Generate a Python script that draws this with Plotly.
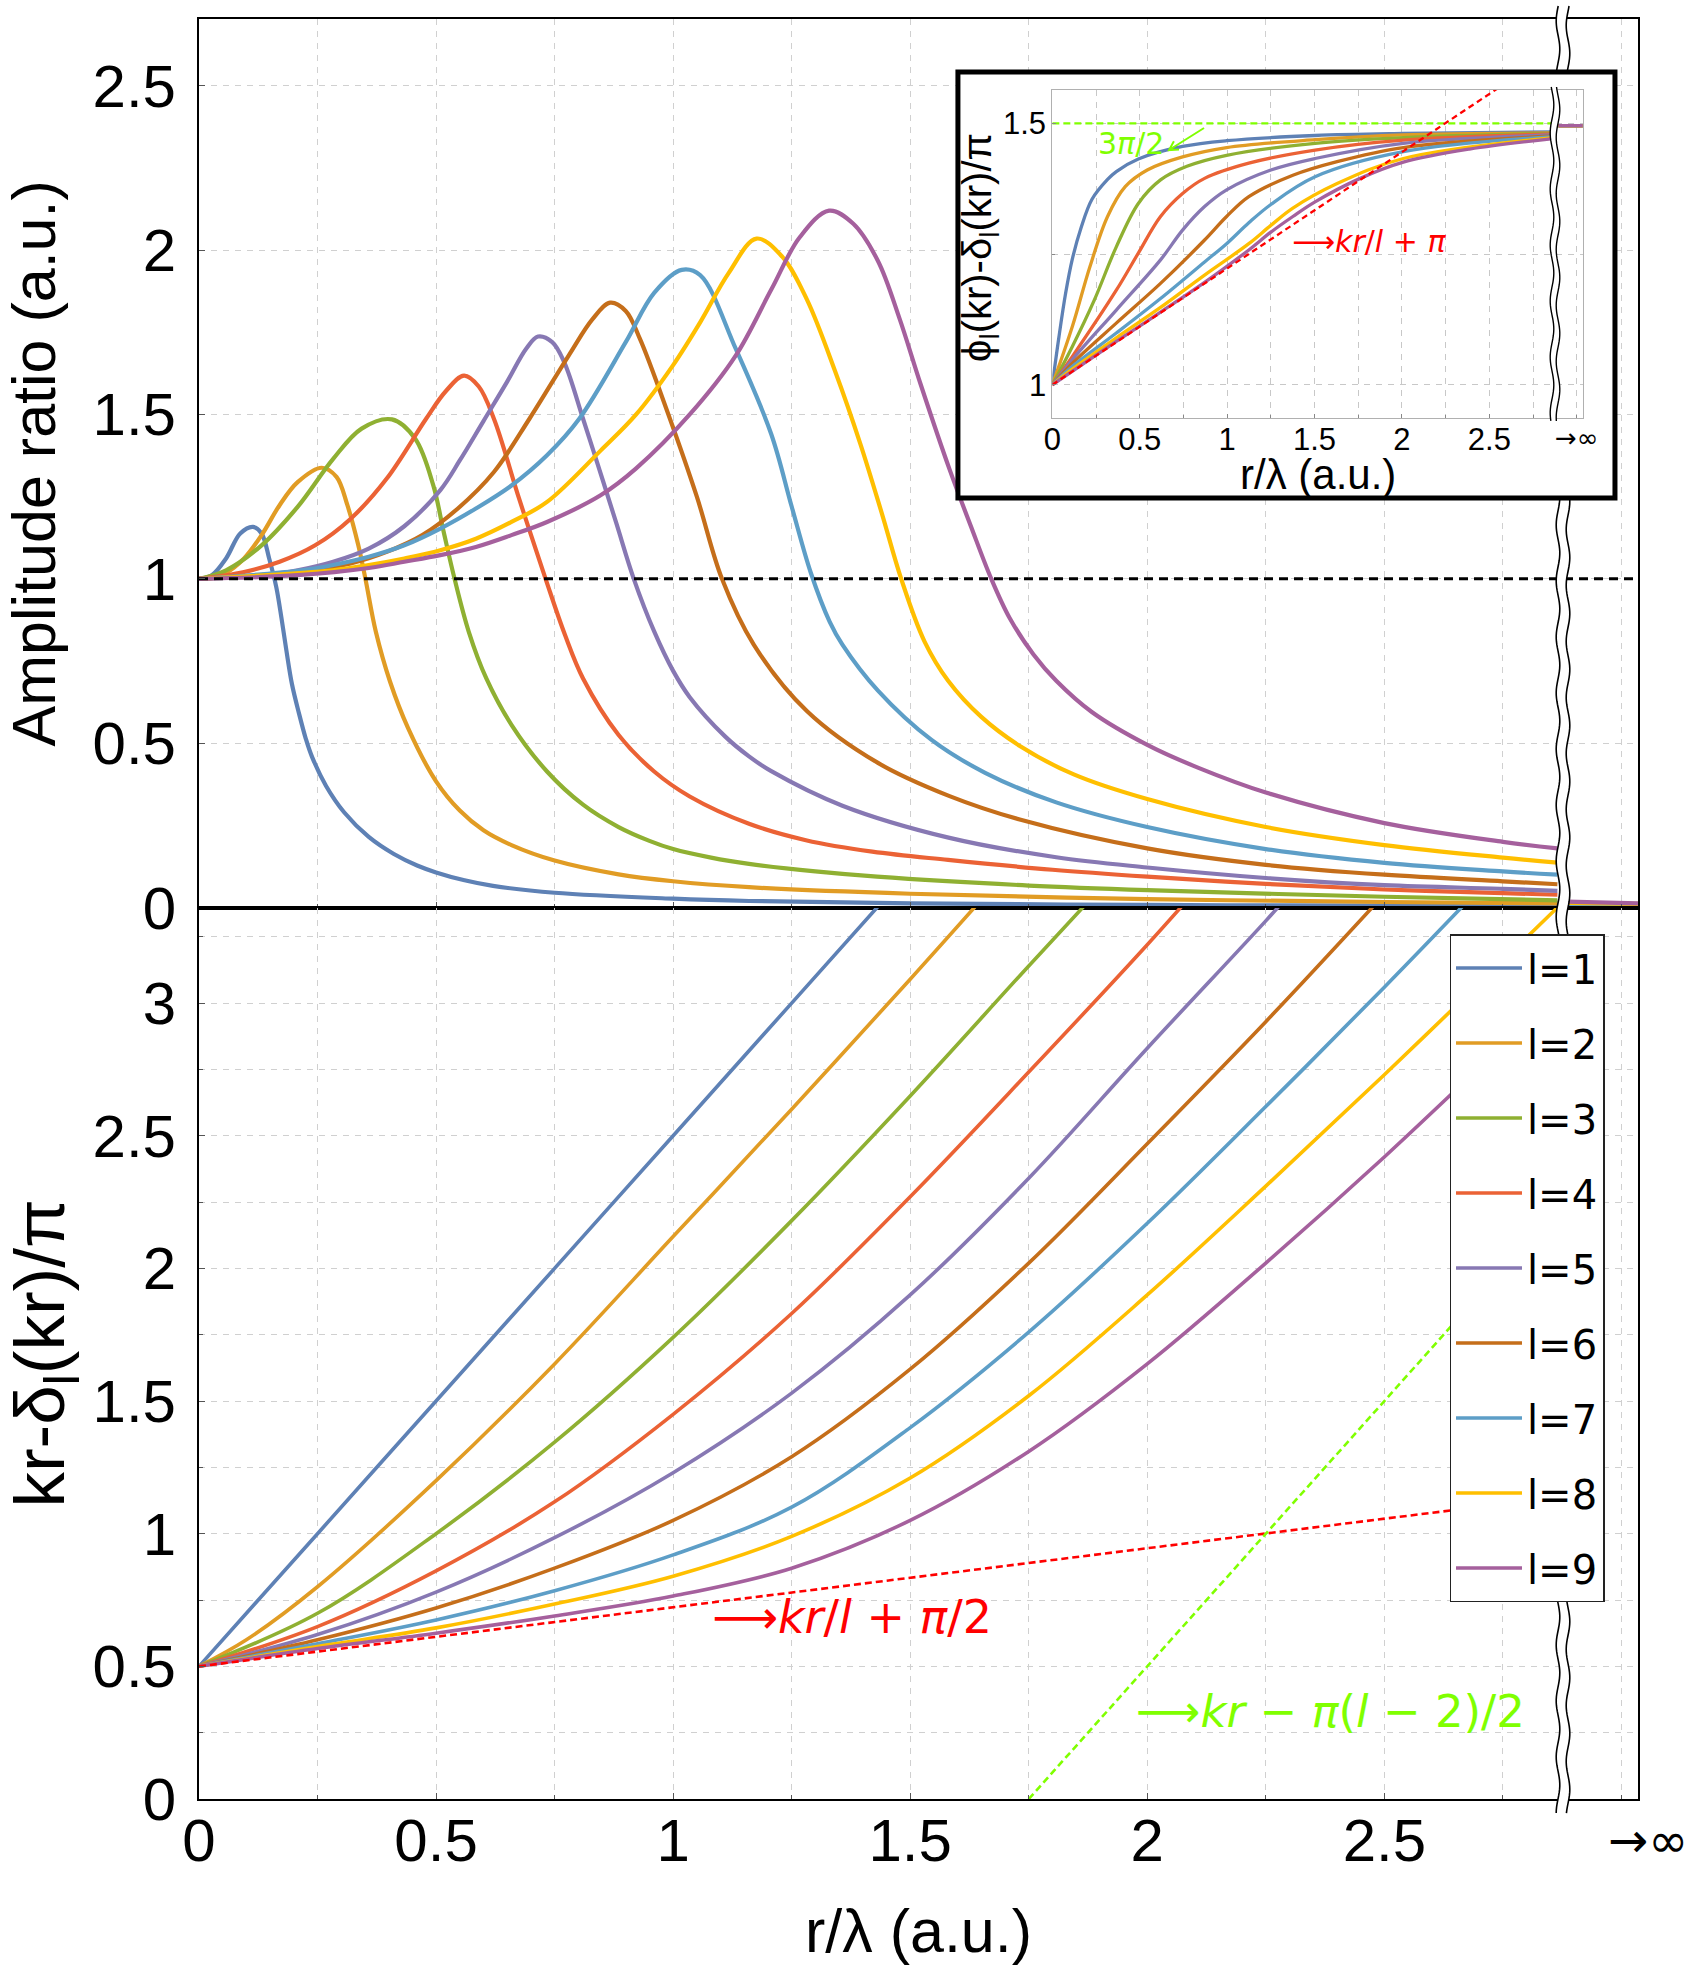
import math
import plotly.graph_objects as go

# ---------------- data ----------------
LABELS = ["l=1", "l=2", "l=3", "l=4", "l=5", "l=6", "l=7", "l=8", "l=9"]
COLORS = ["#5E81B5", "#E19C24", "#8FB032", "#EB6235", "#8778B3",
          "#C56E1A", "#5D9EC7", "#FFBF00", "#A5609D"]

# top panel: amplitude ratio
amp_x_l1 = [0, 0.027, 0.057, 0.087, 0.114, 0.132, 0.148, 0.163, 0.174, 0.184, 0.196, 0.211, 0.225, 0.238, 0.268, 0.306, 0.358, 0.411, 0.46, 0.5, 0.56, 0.62, 0.75, 1.0, 1.16, 1.5, 2.0, 2.5, 2.865]
amp_y_l1 = [1.0, 1.011, 1.062, 1.138, 1.158, 1.138, 1.062, 0.975, 0.88, 0.785, 0.68, 0.59, 0.515, 0.46, 0.37, 0.29, 0.215, 0.163, 0.128, 0.107, 0.083, 0.066, 0.045, 0.027, 0.02, 0.013, 0.008, 0.006, 0.004]
amp_x_l2 = [0, 0.057, 0.095, 0.132, 0.17, 0.208, 0.259, 0.29, 0.313, 0.336, 0.351, 0.373, 0.403, 0.441, 0.5, 0.55, 0.6, 0.659, 0.75, 0.885, 1.0, 1.16, 1.5, 2.0, 2.5, 2.865]
amp_y_l2 = [1.0, 1.019, 1.062, 1.133, 1.224, 1.294, 1.338, 1.31, 1.224, 1.102, 1.0, 0.839, 0.687, 0.546, 0.384, 0.295, 0.235, 0.19, 0.143, 0.101, 0.08, 0.062, 0.042, 0.026, 0.017, 0.013]
amp_x_l3 = [0, 0.057, 0.132, 0.208, 0.283, 0.343, 0.407, 0.456, 0.494, 0.516, 0.539, 0.569, 0.606, 0.659, 0.734, 0.81, 0.885, 0.95, 1.0, 1.08, 1.16, 1.3, 1.43, 1.75, 2.0, 2.5, 2.865]
amp_y_l3 = [1.0, 1.026, 1.102, 1.219, 1.365, 1.457, 1.485, 1.426, 1.285, 1.143, 1.0, 0.839, 0.697, 0.556, 0.414, 0.313, 0.245, 0.203, 0.178, 0.152, 0.133, 0.11, 0.094, 0.067, 0.053, 0.033, 0.022]
amp_x_l4 = [0, 0.095, 0.17, 0.245, 0.32, 0.396, 0.479, 0.52, 0.559, 0.59, 0.622, 0.676, 0.731, 0.772, 0.81, 0.885, 0.96, 1.035, 1.16, 1.28, 1.42, 1.58, 1.8, 2.0, 2.25, 2.5, 2.75, 2.865]
amp_y_l4 = [1.0, 1.021, 1.052, 1.102, 1.183, 1.305, 1.487, 1.57, 1.618, 1.585, 1.487, 1.24, 1.0, 0.829, 0.697, 0.525, 0.414, 0.338, 0.255, 0.205, 0.17, 0.145, 0.115, 0.094, 0.072, 0.055, 0.044, 0.039]
amp_x_l5 = [0, 0.132, 0.208, 0.283, 0.358, 0.433, 0.509, 0.55, 0.6, 0.65, 0.69, 0.715, 0.745, 0.77, 0.81, 0.845, 0.88, 0.917, 0.96, 1.0, 1.035, 1.11, 1.16, 1.207, 1.357, 1.583, 1.808, 2.0, 2.25, 2.5, 2.75, 2.865]
amp_y_l5 = [1.0, 1.011, 1.026, 1.052, 1.092, 1.16, 1.27, 1.36, 1.48, 1.6, 1.7, 1.737, 1.72, 1.66, 1.487, 1.33, 1.17, 1.0, 0.84, 0.72, 0.64, 0.52, 0.46, 0.415, 0.31, 0.212, 0.153, 0.122, 0.09, 0.068, 0.057, 0.051]
amp_x_l6 = [0, 0.208, 0.32, 0.396, 0.471, 0.546, 0.622, 0.697, 0.78, 0.83, 0.867, 0.9, 0.93, 0.99, 1.05, 1.103, 1.17, 1.282, 1.432, 1.583, 1.733, 2.0, 2.25, 2.5, 2.75, 2.865]
amp_y_l6 = [1.0, 1.021, 1.047, 1.082, 1.133, 1.214, 1.325, 1.487, 1.68, 1.79, 1.84, 1.815, 1.73, 1.50, 1.25, 1.0, 0.80, 0.598, 0.44, 0.339, 0.267, 0.18, 0.13, 0.1, 0.08, 0.071]
amp_x_l7 = [0, 0.208, 0.283, 0.358, 0.433, 0.509, 0.584, 0.659, 0.734, 0.802, 0.9, 0.96, 1.018, 1.057, 1.132, 1.207, 1.25, 1.29, 1.33, 1.357, 1.432, 1.545, 1.658, 1.808, 2.0, 2.25, 2.5, 2.75, 2.865]
amp_y_l7 = [1.0, 1.024, 1.042, 1.067, 1.102, 1.153, 1.214, 1.284, 1.376, 1.487, 1.72, 1.87, 1.94, 1.924, 1.70, 1.44, 1.22, 1.02, 0.87, 0.80, 0.66, 0.51, 0.41, 0.32, 0.245, 0.178, 0.136, 0.11, 0.1]
amp_x_l8 = [0, 0.283, 0.358, 0.433, 0.509, 0.584, 0.659, 0.734, 0.847, 0.922, 1.0, 1.057, 1.117, 1.176, 1.23, 1.282, 1.342, 1.395, 1.44, 1.481, 1.53, 1.58, 1.65, 1.733, 1.845, 2.0, 2.25, 2.5, 2.75, 2.865]
amp_y_l8 = [1.0, 1.026, 1.042, 1.062, 1.087, 1.122, 1.173, 1.234, 1.39, 1.50, 1.65, 1.78, 1.93, 2.035, 1.98, 1.85, 1.63, 1.41, 1.20, 1.0, 0.81, 0.69, 0.58, 0.49, 0.405, 0.33, 0.245, 0.19, 0.152, 0.137]
amp_x_l9 = [0, 0.208, 0.358, 0.433, 0.509, 0.584, 0.659, 0.734, 0.847, 0.922, 1.035, 1.132, 1.207, 1.267, 1.329, 1.38, 1.432, 1.477, 1.522, 1.583, 1.628, 1.671, 1.71, 1.76, 1.808, 1.883, 2.0, 2.108, 2.25, 2.5, 2.75, 2.865]
amp_y_l9 = [1.0, 1.011, 1.033, 1.052, 1.072, 1.097, 1.133, 1.173, 1.254, 1.336, 1.50, 1.679, 1.88, 2.039, 2.12, 2.08, 1.967, 1.794, 1.592, 1.333, 1.16, 1.0, 0.88, 0.77, 0.69, 0.595, 0.495, 0.425, 0.35, 0.257, 0.2, 0.18]
# values beyond the axis break (r -> infinity)
amp_tail_x = [2.885, 3.035]
amp_tail_y = [[0.002, 0.001], [0.003, 0.002], [0.004, 0.003], [0.005, 0.004], [0.007, 0.005],
              [0.009, 0.007], [0.011, 0.009], [0.014, 0.011], [0.018, 0.013]]
unity_x = [0, 3.035]
unity_y = [1.0, 1.0]

# bottom panel: kr - delta_l(kr) / pi
ph_x_l1 = [0, 0.25, 0.5, 0.75, 1.0, 1.25, 1.45]
ph_y_l1 = [0.5, 1.0, 1.5, 2.0, 2.5, 3.0, 3.4]
ph_x_l2 = [0, 0.1, 0.25, 0.5, 0.75, 1.0, 1.25, 1.5, 1.7]
ph_y_l2 = [0.5, 0.6, 0.80, 1.2, 1.64, 2.12, 2.6, 3.09, 3.49]
ph_x_l3 = [0, 0.25, 0.5, 0.75, 1.0, 1.25, 1.5, 1.75, 1.9]
ph_y_l3 = [0.5, 0.70, 1.0, 1.345, 1.74, 2.18, 2.65, 3.14, 3.43]
ph_x_l4 = [0, 0.25, 0.5, 0.75, 1.0, 1.25, 1.5, 1.75, 2.0, 2.1]
ph_y_l4 = [0.5, 0.65, 0.86, 1.12, 1.45, 1.83, 2.27, 2.74, 3.22, 3.42]
ph_x_l5 = [0, 0.25, 0.5, 0.75, 1.0, 1.25, 1.5, 1.75, 2.0, 2.25, 2.32]
ph_y_l5 = [0.5, 0.62, 0.78, 0.985, 1.23, 1.53, 1.9, 2.34, 2.83, 3.31, 3.45]
ph_x_l6 = [0, 0.25, 0.5, 0.75, 1.0, 1.25, 1.5, 1.75, 2.0, 2.25, 2.5]
ph_y_l6 = [0.5, 0.60, 0.72, 0.87, 1.05, 1.29, 1.62, 2.02, 2.47, 2.93, 3.41]
ph_x_l7 = [0, 0.25, 0.5, 0.75, 1.0, 1.25, 1.5, 1.75, 2.0, 2.25, 2.5, 2.7]
ph_y_l7 = [0.5, 0.585, 0.675, 0.785, 0.92, 1.10, 1.40, 1.76, 2.17, 2.61, 3.06, 3.43]
ph_x_l8 = [0, 0.25, 0.5, 0.75, 1.0, 1.25, 1.5, 1.75, 2.0, 2.25, 2.5, 2.75, 2.865]
ph_y_l8 = [0.5, 0.575, 0.645, 0.735, 0.84, 0.99, 1.21, 1.52, 1.9, 2.31, 2.73, 3.16, 3.36]
ph_x_l9 = [0, 0.25, 0.5, 0.75, 1.0, 1.25, 1.5, 1.75, 2.0, 2.25, 2.5, 2.75, 2.865]
ph_y_l9 = [0.5, 0.567, 0.625, 0.69, 0.765, 0.87, 1.05, 1.31, 1.64, 2.02, 2.42, 2.84, 3.03]
near_x = [0, 2.875]          # small-r asymptote (red dashed)
near_y = [0.5, 1.14]
far_x = [1.75, 2.875]        # large-r asymptote (green dashed)
far_y = [0.0, 2.25]

# inset: phi_l(kr) - delta_l(kr) / pi
ins_x_l1 = [0, 0.038, 0.076, 0.114, 0.164, 0.227, 0.316, 0.366, 0.492, 0.745, 0.997, 1.503, 2.008, 2.865]
ins_y_l1 = [1.0, 1.092, 1.175, 1.24, 1.30, 1.355, 1.393, 1.408, 1.432, 1.456, 1.467, 1.477, 1.481, 1.484]
ins_x_l2 = [0, 0.114, 0.215, 0.316, 0.417, 0.543, 0.745, 0.997, 1.503, 2.008, 2.865]
ins_y_l2 = [1.0, 1.111, 1.226, 1.322, 1.379, 1.411, 1.436, 1.454, 1.469, 1.478, 1.482]
ins_x_l3 = [0, 0.114, 0.24, 0.366, 0.492, 0.619, 0.77, 0.997, 1.503, 2.008, 2.865]
ins_y_l3 = [1.0, 1.073, 1.162, 1.264, 1.347, 1.392, 1.418, 1.439, 1.462, 1.473, 1.481]
ins_x_l4 = [0, 0.114, 0.366, 0.492, 0.619, 0.745, 0.871, 1.124, 1.503, 2.008, 2.865]
ins_y_l4 = [1.0, 1.054, 1.181, 1.252, 1.322, 1.366, 1.395, 1.424, 1.449, 1.468, 1.480]
ins_x_l5 = [0, 0.114, 0.366, 0.619, 0.745, 0.871, 0.997, 1.25, 1.503, 2.008, 2.865]
ins_y_l5 = [1.0, 1.048, 1.143, 1.239, 1.296, 1.341, 1.373, 1.411, 1.433, 1.462, 1.478]
ins_x_l6 = [0, 0.114, 0.366, 0.619, 0.871, 0.997, 1.124, 1.376, 1.629, 2.008, 2.865]
ins_y_l6 = [1.0, 1.041, 1.118, 1.194, 1.277, 1.322, 1.360, 1.401, 1.427, 1.454, 1.476]
ins_x_l7 = [0, 0.114, 0.366, 0.619, 0.871, 0.997, 1.124, 1.25, 1.503, 2.008, 2.865]
ins_y_l7 = [1.0, 1.035, 1.099, 1.165, 1.235, 1.27, 1.31, 1.345, 1.398, 1.446, 1.475]
ins_x_l8 = [0, 0.114, 0.366, 0.619, 0.871, 1.124, 1.25, 1.376, 1.629, 2.008, 2.865]
ins_y_l8 = [1.0, 1.03, 1.09, 1.148, 1.21, 1.27, 1.305, 1.338, 1.385, 1.433, 1.473]
ins_x_l9 = [0, 0.366, 0.619, 0.871, 1.124, 1.25, 1.376, 1.503, 1.755, 2.008, 2.386, 2.865]
ins_y_l9 = [1.0, 1.083, 1.139, 1.196, 1.258, 1.292, 1.322, 1.35, 1.394, 1.426, 1.451, 1.471]
ins_tail_x = [2.895, 3.035]
ins_tail_y = [1.496, 1.496]
ins_near_x = [0, 2.875]
ins_near_y = [1.0, 1.64]
ins_lim_x = [0, 2.875]
ins_lim_y = [1.5, 1.5]

AMP = [(amp_x_l1, amp_y_l1), (amp_x_l2, amp_y_l2), (amp_x_l3, amp_y_l3), (amp_x_l4, amp_y_l4),
       (amp_x_l5, amp_y_l5), (amp_x_l6, amp_y_l6), (amp_x_l7, amp_y_l7), (amp_x_l8, amp_y_l8),
       (amp_x_l9, amp_y_l9)]
PH = [(ph_x_l1, ph_y_l1), (ph_x_l2, ph_y_l2), (ph_x_l3, ph_y_l3), (ph_x_l4, ph_y_l4),
      (ph_x_l5, ph_y_l5), (ph_x_l6, ph_y_l6), (ph_x_l7, ph_y_l7), (ph_x_l8, ph_y_l8),
      (ph_x_l9, ph_y_l9)]
INS = [(ins_x_l1, ins_y_l1), (ins_x_l2, ins_y_l2), (ins_x_l3, ins_y_l3), (ins_x_l4, ins_y_l4),
       (ins_x_l5, ins_y_l5), (ins_x_l6, ins_y_l6), (ins_x_l7, ins_y_l7), (ins_x_l8, ins_y_l8),
       (ins_x_l9, ins_y_l9)]

RED = "#FF0000"
LIME = "#80FF00"
SANS = "Liberation Sans, Arial"
TICKFONT = dict(family=SANS, size=60, color="black")
TITLEFONT = dict(family=SANS, size=61, color="black")

fig = go.Figure()

# ---------- top panel ----------
for i in range(9):
    x, y = AMP[i]
    fig.add_trace(go.Scatter(x=x, y=y, mode="lines", xaxis="x", yaxis="y",
                             line=dict(color=COLORS[i], width=4.2, shape="spline", smoothing=1.0),
                             showlegend=False, hoverinfo="skip"))
    fig.add_trace(go.Scatter(x=amp_tail_x, y=amp_tail_y[i], mode="lines", xaxis="x", yaxis="y",
                             line=dict(color=COLORS[i], width=4.2),
                             showlegend=False, hoverinfo="skip"))
fig.add_trace(go.Scatter(x=unity_x, y=unity_y, mode="lines", xaxis="x", yaxis="y",
                         line=dict(color="black", width=3, dash="9px,6px"),
                         showlegend=False, hoverinfo="skip"))

# ---------- bottom panel ----------
for i in range(9):
    x, y = PH[i]
    fig.add_trace(go.Scatter(x=x, y=y, mode="lines", xaxis="x2", yaxis="y2", name=LABELS[i],
                             line=dict(color=COLORS[i], width=3.6, shape="spline", smoothing=1.0),
                             showlegend=True, legendgroup=LABELS[i], hoverinfo="skip"))
fig.add_trace(go.Scatter(x=near_x, y=near_y, mode="lines", xaxis="x2", yaxis="y2",
                         line=dict(color=RED, width=2.6, dash="7px,4px"), showlegend=False))
fig.add_trace(go.Scatter(x=far_x, y=far_y, mode="lines", xaxis="x2", yaxis="y2",
                         line=dict(color=LIME, width=2.6, dash="7px,4px"), showlegend=False))

# ---------- white card behind inset ----------
fig.add_trace(go.Scatter(x=[0], y=[0], mode="markers", xaxis="x3", yaxis="y3",
                         marker=dict(opacity=0), showlegend=False, hoverinfo="skip"))

# ---------- inset ----------
fig.add_trace(go.Scatter(x=ins_lim_x, y=ins_lim_y, mode="lines", xaxis="x4", yaxis="y4",
                         line=dict(color=LIME, width=2.3, dash="7px,4px"), showlegend=False))
for i in range(9):
    x, y = INS[i]
    fig.add_trace(go.Scatter(x=x, y=y, mode="lines", xaxis="x4", yaxis="y4",
                             line=dict(color=COLORS[i], width=3.3, shape="spline", smoothing=1.0),
                             showlegend=False, hoverinfo="skip"))
    fig.add_trace(go.Scatter(x=ins_tail_x, y=ins_tail_y, mode="lines", xaxis="x4", yaxis="y4",
                             line=dict(color=COLORS[i], width=3.3), showlegend=False, hoverinfo="skip"))
fig.add_trace(go.Scatter(x=ins_near_x, y=ins_near_y, mode="lines", xaxis="x4", yaxis="y4",
                         line=dict(color=RED, width=2.3, dash="6px,4px"), showlegend=False))

# ---------- axes ----------
XR = [0, 3.035]
major_x = [0, 0.5, 1, 1.5, 2, 2.5]
major_x_text = ["0", "0.5", "1", "1.5", "2", "2.5"]
minor_x = [0.25, 0.75, 1.25, 1.75, 2.25, 2.75, 3.0]
GRID = dict(showgrid=True, gridcolor="#d0d0d0", gridwidth=1, griddash="6px,6px")
frame = dict(showline=True, linecolor="black", linewidth=2, mirror=True, zeroline=False,
             ticks="inside", ticklen=6, tickcolor="#555", tickwidth=1, **GRID)
minor_x_cfg = dict(tickmode="array", tickvals=minor_x, ticks="inside", ticklen=4,
                   tickcolor="#555", **GRID)

split = 0.5008
fig.update_layout(
    xaxis=dict(domain=[0, 1], range=XR, anchor="y", tickmode="array", tickvals=major_x,
               ticktext=major_x_text, showticklabels=False, minor=minor_x_cfg, **frame),
    yaxis=dict(domain=[split, 1], range=[0, 2.703], anchor="x", tickmode="array",
               tickvals=[0, 0.5, 1, 1.5, 2, 2.5], ticktext=["0", "0.5", "1", "1.5", "2", "2.5"],
               tickfont=TICKFONT, ticklabelstandoff=9,
               title=dict(text="Amplitude ratio (a.u.)", font=TITLEFONT, standoff=26), **frame),
    xaxis2=dict(domain=[0, 1], range=XR, anchor="y2", tickmode="array", tickvals=major_x,
                ticktext=major_x_text, tickfont=TICKFONT, ticklabelstandoff=-12,
                minor=minor_x_cfg,
                title=dict(text="r/λ (a.u.)", font=TITLEFONT, standoff=36), **frame),
    yaxis2=dict(domain=[0, split], range=[0, 3.36], anchor="x2", tickmode="array",
                tickvals=[0, 0.5, 1, 1.5, 2, 2.5, 3],
                ticktext=["0", "0.5", "1", "1.5", "2", "2.5", "3"],
                minor=dict(tickmode="array", tickvals=[0.25, 0.75, 1.25, 1.75, 2.25, 2.75, 3.25],
                           ticks="inside", ticklen=4, tickcolor="#555", **GRID),
                tickfont=TICKFONT, ticklabelstandoff=9,
                title=dict(text="kr-δ<sub>l</sub>(kr)/π", font=dict(family=SANS, size=71, color="black"),
                           standoff=20), **frame),
    xaxis3=dict(domain=[0.5274, 0.984], anchor="y3", visible=False, range=[-1, 1]),
    yaxis3=dict(domain=[0.7309, 0.9702], anchor="x3", visible=False, range=[-1, 1]),
    xaxis4=dict(domain=[0.5930, 0.9617], range=XR, anchor="y4", tickmode="array",
                tickvals=major_x, ticktext=major_x_text,
                tickfont=dict(family=SANS, size=31, color="black"),
                minor=dict(tickmode="array", tickvals=minor_x, ticks="inside", ticklen=3,
                           tickcolor="#888", showgrid=True, gridcolor="#c8c8c8",
                           griddash="6px,6px"),
                showline=True, linecolor="#b0b0b0", linewidth=1, mirror=True,
                showgrid=True, gridcolor="#c8c8c8", griddash="6px,6px", zeroline=False,
                ticks="inside", ticklen=4, tickcolor="#888", ticklabelstandoff=-6),
    yaxis4=dict(domain=[0.7757, 0.9601], range=[0.936, 1.564], anchor="x4", tickmode="array",
                tickvals=[1, 1.5], ticktext=["1", "1.5"],
                tickfont=dict(family=SANS, size=31, color="black"),
                minor=dict(tickmode="array", tickvals=[1.25], ticks="inside", ticklen=3,
                           tickcolor="#888", showgrid=True, gridcolor="#c8c8c8",
                           griddash="6px,6px"),
                showline=True, linecolor="#b0b0b0", linewidth=1, mirror=True,
                showgrid=True, gridcolor="#c8c8c8", griddash="6px,6px", zeroline=False,
                ticks="inside", ticklen=4, tickcolor="#888", ticklabelstandoff=-1),
)

# ---------- break marks & decorations ----------
W, H = 1699 - 199 - 61, 1977 - 19 - 178


def wave(xc, y_top, y_bot, amp_px=1.8, period_px=56.0, phase=0.0):
    pts = []
    n = int(abs(y_top - y_bot) * H / 3) + 2
    for k in range(n + 1):
        yy = y_top + (y_bot - y_top) * k / n
        xx = xc + amp_px / W * math.sin(2 * math.pi * (yy * H) / period_px + phase)
        pts.append((xx, yy))
    return pts


def line_path(pts):
    return "M" + " L".join(f"{px:.5f},{py:.5f}" for px, py in pts)


def band_path(left, right):
    pts = left + right[::-1]
    return "M" + " L".join(f"{px:.5f},{py:.5f}" for px, py in pts) + " Z"


shapes = []


def add_break(xl, xr, y_top, y_bot, lw):
    left = wave(xl, y_top, y_bot)
    right = wave(xr, y_top, y_bot, phase=0.5)
    shapes.append(dict(type="path", xref="paper", yref="paper", path=band_path(left, right),
                       fillcolor="white", line=dict(width=0), layer="above"))
    for pts in (left, right):
        shapes.append(dict(type="path", xref="paper", yref="paper", path=line_path(pts),
                           fillcolor="rgba(0,0,0,0)", line=dict(color="black", width=lw),
                           layer="above"))


xb_l, xb_r = (1558 - 199) / W, (1568 - 199) / W
add_break(xb_l, xb_r, 1.0073, 0.9702, 1.6)
add_break(xb_l, xb_r, 0.7309, -0.0079, 1.6)
xi_l, xi_r = (1552 - 199) / W, (1558 - 199) / W
add_break(xi_l, xi_r, 0.9618, 0.7742, 1.4)

# inset frame
shapes.append(dict(type="rect", xref="paper", yref="paper", x0=0.5274, x1=0.984,
                   y0=0.7309, y1=0.9702, line=dict(color="black", width=5),
                   fillcolor="rgba(0,0,0,0)", layer="above"))


# small green arrow in the inset (from the 3pi/2 line towards its label)
def ins_xy(px, py):
    return (px - 1052.3) / 174.8, 1.564 - (py - 90) / 522.8


hx, hy = 1169.0, 150.0
tx, ty = 1204.0, 128.0
ux, uy = (tx - hx), (ty - hy)
ul = math.hypot(ux, uy)
ux, uy = ux / ul, uy / ul
wings = []
for ang in (0.5, -0.5):
    ca, sa = math.cos(ang), math.sin(ang)
    wx, wy = ux * ca - uy * sa, ux * sa + uy * ca
    wings.append((hx + 10 * wx, hy + 10 * wy))
p_t, p_h, p_w1, p_w2 = ins_xy(tx, ty), ins_xy(hx, hy), ins_xy(*wings[0]), ins_xy(*wings[1])
shapes.append(dict(type="path", xref="x4", yref="y4", layer="above",
                   path=(f"M{p_t[0]:.4f},{p_t[1]:.4f} L{p_h[0]:.4f},{p_h[1]:.4f} "
                         f"M{p_w1[0]:.4f},{p_w1[1]:.4f} L{p_h[0]:.4f},{p_h[1]:.4f} "
                         f"L{p_w2[0]:.4f},{p_w2[1]:.4f}"),
                   fillcolor="rgba(0,0,0,0)", line=dict(color=LIME, width=2)))

annotations = [
    dict(xref="x2", yref="y2", x=1.077, y=0.686, xanchor="left", yanchor="middle", showarrow=False,
         text="⟶<i>kr</i>/<i>l</i> + <i>π</i>/2",
         font=dict(family="DejaVu Sans", size=46, color=RED)),
    dict(xref="x2", yref="y2", x=1.971, y=0.329, xanchor="left", yanchor="middle", showarrow=False,
         text="⟶<i>kr</i> − <i>π</i>(<i>l</i> − 2)/2",
         font=dict(family="DejaVu Sans", size=45, color=LIME)),
    dict(xref="x4", yref="y4", x=1.36, y=1.274, xanchor="left", yanchor="middle", showarrow=False,
         text="⟶<i>kr</i>/<i>l</i> + <i>π</i>",
         font=dict(family="DejaVu Sans", size=30, color=RED)),
    dict(xref="x4", yref="y4", x=0.25, y=1.462, xanchor="left", yanchor="middle", showarrow=False,
         text="3<i>π</i>/2", font=dict(family="DejaVu Sans", size=30, color=LIME)),
    dict(xref="paper", yref="paper", x=1.007, y=-0.023, text="→∞", showarrow=False,
         xanchor="center", yanchor="middle",
         font=dict(family="DejaVu Sans", size=48, color="black")),
    dict(xref="x4", yref="paper", x=3.0, y=0.7646, text="→∞", showarrow=False,
         xanchor="center", yanchor="middle",
         font=dict(family="DejaVu Sans", size=26, color="black")),
    # inset axis titles
    dict(xref="paper", yref="paper", x=(1318 - 199) / W, y=(1799 - 475) / H, showarrow=False,
         xanchor="center", yanchor="middle", text="r/λ (a.u.)",
         font=dict(family=SANS, size=42, color="black")),
    dict(xref="paper", yref="paper", x=(980 - 199) / W, y=(1799 - 248) / H, showarrow=False,
         xanchor="center", yanchor="middle", textangle=-90,
         text="ϕ<sub>l</sub>(kr)-δ<sub>l</sub>(kr)/π",
         font=dict(family=SANS, size=40, color="black")),
]

fig.update_layout(
    width=1699, height=1977,
    margin=dict(l=199, r=61, t=19, b=178),
    paper_bgcolor="white", plot_bgcolor="white",
    shapes=shapes, annotations=annotations,
    showlegend=True,
    legend=dict(x=(1449.5 - 199) / W, y=(1799 - 934) / H, xanchor="left", yanchor="top",
                bgcolor="white", bordercolor="#222", borderwidth=1.5,
                font=dict(family="DejaVu Sans", size=40, color="black"),
                itemwidth=66, tracegroupgap=20, traceorder="grouped"),
)

fig.write_html("out.html")
